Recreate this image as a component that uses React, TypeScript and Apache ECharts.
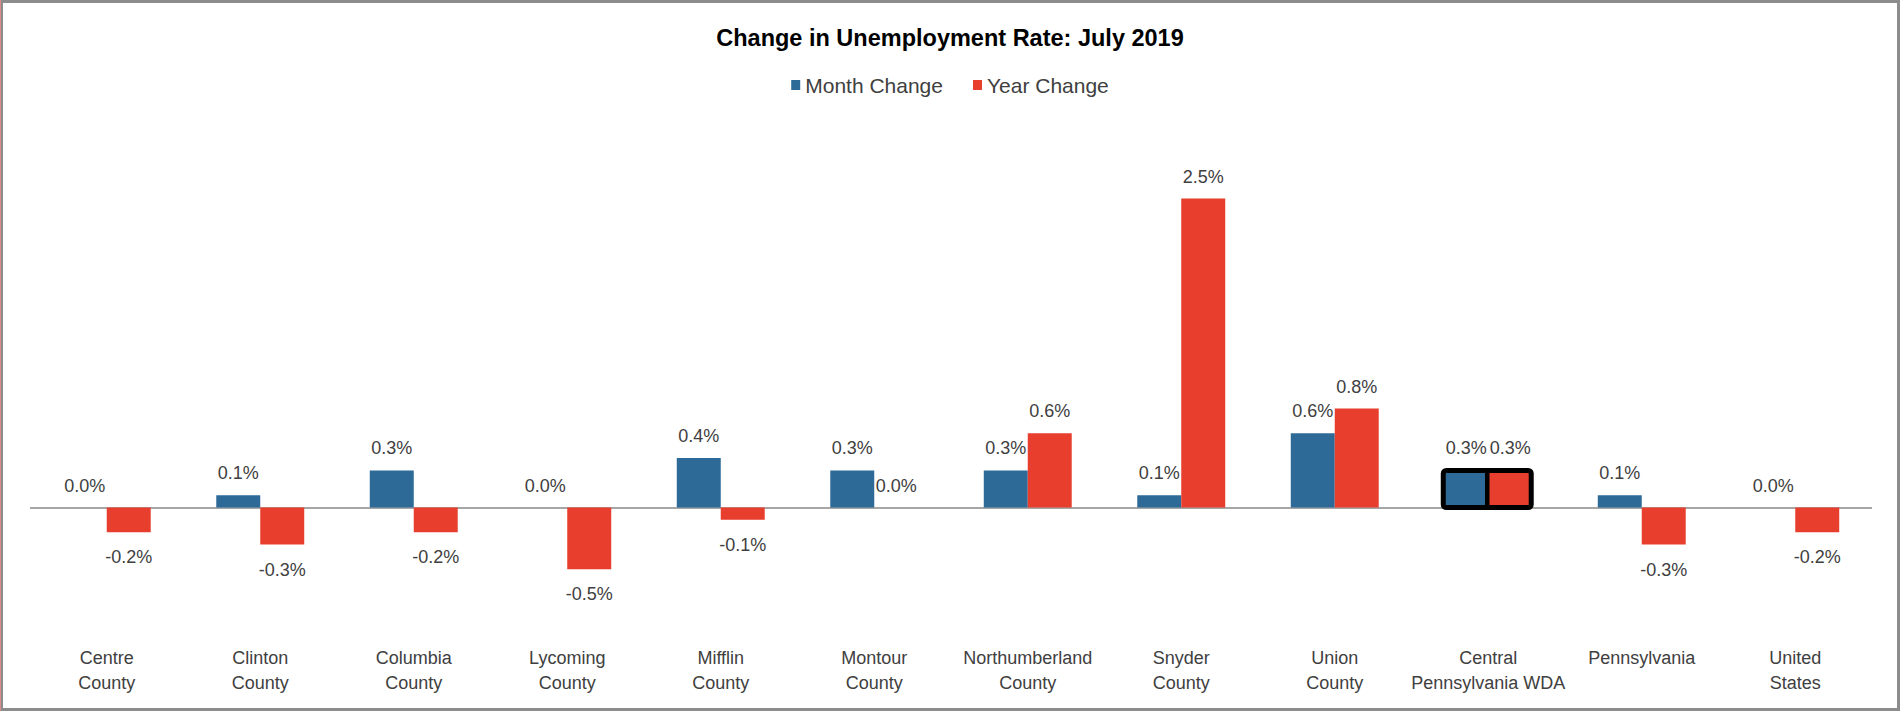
import React, { useEffect, useRef } from "react";
import * as echarts from "echarts";

const categories = [
  "Centre\nCounty",
  "Clinton\nCounty",
  "Columbia\nCounty",
  "Lycoming\nCounty",
  "Mifflin\nCounty",
  "Montour\nCounty",
  "Northumberland\nCounty",
  "Snyder\nCounty",
  "Union\nCounty",
  "Central\nPennsylvania WDA",
  "Pennsylvania",
  "United\nStates",
];
const monthChange = [0.0, 0.1, 0.3, 0.0, 0.4, 0.3, 0.3, 0.1, 0.6, 0.3, 0.1, 0.0];
const yearChange = [-0.2, -0.3, -0.2, -0.5, -0.1, 0.0, 0.6, 2.5, 0.8, 0.3, -0.3, -0.2];
const highlightIndex = 9;

const BLUE = "#2D6A98";
const RED = "#E73E2D";
const SANS = "'Liberation Sans', Arial, sans-serif";
const CATEGORY_GAP = 0.427;

function buildData(values: number[]) {
  return values.map((v) => ({
    value: v,
    label: v >= 0 ? { position: "top", distance: 13 } : { position: "bottom", distance: 16 },
  }));
}

export default function App() {
  const ref = useRef<HTMLDivElement>(null);
  useEffect(() => {
    if (!ref.current) return;
    const chart = echarts.init(ref.current, undefined, { renderer: "svg" });
    const label = {
      show: true,
      distance: 13,
      fontFamily: SANS,
      fontSize: 18,
      color: "#404040",
      formatter: (p: any) => Number(p.value).toFixed(1) + "%",
    };
    chart.setOption({
      animation: false,
      backgroundColor: "#fff",
      title: {
        text: "Change in Unemployment Rate: July 2019",
        left: "center",
        top: 19,
        textStyle: {
          fontFamily: SANS,
          fontWeight: "bold",
          fontSize: 23.5,
          lineHeight: 28,
          color: "#000",
        },
      },
      legend: {
        top: 68,
        left: "center",
        icon: "rect",
        itemWidth: 9,
        itemHeight: 10,
        itemGap: 30,
        textStyle: { fontFamily: SANS, fontSize: 21, lineHeight: 24, color: "#404040" },
        data: ["Month Change", "Year Change"],
      },
      grid: { left: 30, right: 28, top: 136.7, bottom: 79.9, containLabel: false },
      xAxis: {
        type: "category",
        data: categories,
        axisLine: { show: false },
        axisTick: { show: false },
        axisLabel: {
          interval: 0,
          margin: 14,
          fontFamily: SANS,
          fontSize: 18,
          lineHeight: 25,
          color: "#404040",
          verticalAlign: "top",
        },
      },
      yAxis: {
        type: "value",
        min: -1,
        max: 3,
        interval: 1,
        show: false,
        splitLine: { show: false },
      },
      series: [
        {
          name: "Month Change",
          type: "bar",
          data: buildData(monthChange),
          itemStyle: { color: BLUE },
          barGap: "0%",
          barCategoryGap: CATEGORY_GAP * 100 + "%",
          label,
          markLine: {
            silent: true,
            symbol: "none",
            z: 1,
            label: { show: false },
            lineStyle: { color: "#A6A6A6", width: 2, type: "solid" },
            data: [{ yAxis: 0 }],
          },
        },
        {
          name: "Year Change",
          type: "bar",
          data: buildData(yearChange),
          itemStyle: { color: RED },
          barGap: "0%",
          barCategoryGap: CATEGORY_GAP * 100 + "%",
          label,
        },
        {
          name: "Highlight",
          type: "custom",
          silent: true,
          z: 10,
          data: [[highlightIndex, Math.max(monthChange[highlightIndex], yearChange[highlightIndex])]],
          renderItem: (params: any, api: any) => {
            const idx = api.value(0);
            const top = api.coord([idx, api.value(1)]);
            const base = api.coord([idx, 0]);
            const catW = api.size([1, 0])[0];
            const total = catW * (1 - CATEGORY_GAP);
            const x0 = base[0] - total / 2;
            return {
              type: "group",
              children: [
                {
                  type: "rect",
                  shape: { x: x0 - 1, y: top[1], width: total, height: base[1] - top[1], r: 3 },
                  style: { fill: "none", stroke: "#000", lineWidth: 5 },
                },
                {
                  type: "line",
                  shape: { x1: base[0] - 1, y1: top[1], x2: base[0] - 1, y2: base[1] },
                  style: { stroke: "#000", lineWidth: 4.5 },
                },
              ],
            };
          },
        },
      ],
      graphic: [
        {
          type: "rect",
          silent: true,
          z: 100,
          shape: { x: 1.5, y: 1.5, width: 1897, height: 708 },
          style: { fill: "none", stroke: "#8C8C8C", lineWidth: 3 },
        },
        {
          type: "line",
          silent: true,
          z: 101,
          shape: { x1: 0.5, y1: 0, x2: 0.5, y2: 711 },
          style: { stroke: "#D98A8A", lineWidth: 1 },
        },
      ],
    });
    return () => chart.dispose();
  }, []);
  return (
    <div
      ref={ref}
      style={{ position: "fixed", left: 0, top: 0, width: 1900, height: 711 }}
    />
  );
}
